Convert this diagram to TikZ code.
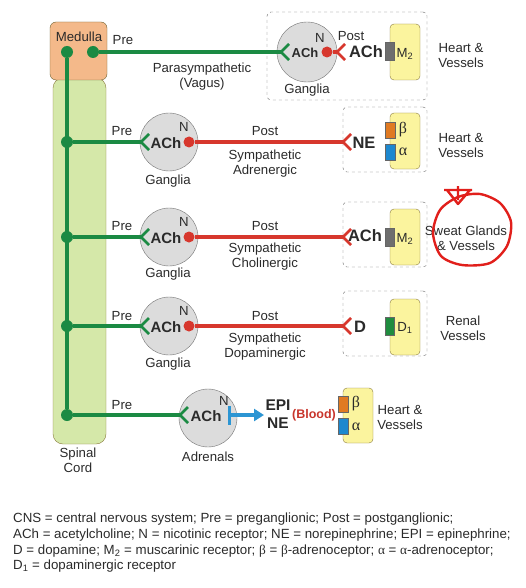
\documentclass[tikz,border=0pt]{standalone}
\usepackage{fontspec}
\setmainfont{Liberation Sans}
\newfontfamily\grk{Liberation Serif}
\usepackage{tikz}
\usetikzlibrary{arrows.meta,positioning}
\definecolor{ink}{HTML}{2A2A2A}
\definecolor{nerve}{HTML}{1B8A43}
\definecolor{postc}{HTML}{D7372D}
\definecolor{epic}{HTML}{2C95D3}
\definecolor{gangfill}{HTML}{DCDCDC}
\definecolor{cordfill}{HTML}{D5E8A9}
\definecolor{medfill}{HTML}{F4B98A}
\definecolor{organ}{HTML}{FBF49E}
\definecolor{organline}{HTML}{8A7B3E}
\definecolor{mtwo}{HTML}{6E6E6E}
\definecolor{betac}{HTML}{E07A22}
\definecolor{alphac}{HTML}{1D88CF}
\definecolor{donec}{HTML}{1F8C3F}
\definecolor{bloodc}{HTML}{C8352C}
\definecolor{scrib}{HTML}{E11F1B}
\tikzset{pics/fork/.style={code={\draw[line width=2.8pt] (8,-8) -- (0,0) -- (8,8);}}}

\begin{document}
\begin{tikzpicture}[x=1pt,y=-1pt,
  every node/.style={font=\fontsize{13.2}{15}\selectfont,text=ink,inner sep=0pt},
  lbl/.style={align=center},
  dot/.style={circle,fill=nerve,minimum size=12pt},
  rdot/.style={circle,fill=postc,minimum size=11pt},
  gang/.style={circle,draw=black!55,fill=gangfill,minimum size=58pt},
  organbox/.style={draw=organline,fill=organ,rounded corners=4pt,minimum width=30pt,minimum height=56pt},
  target/.style={draw=black!60,dashed,rounded corners=4pt},
  rcpt/.style={draw=black!60,minimum width=9.5pt,minimum height=18pt},
  nerveline/.style={nerve,line width=3.2pt},
  postline/.style={postc,line width=3.2pt},
  achsm/.style={font=\fontsize{15}{17}\selectfont\bfseries},
  achbig/.style={font=\fontsize{16.5}{18}\selectfont\bfseries}
]
\useasboundingbox (0,0) rectangle (526,588);

% spinal cord and medulla
\node[draw=organline,fill=cordfill,rounded corners=10pt,minimum width=53pt,minimum height=366pt] (cord) at (79.5,261) {};
\node[draw=organline!80!black,fill=medfill,rounded corners=6pt,minimum width=57pt,minimum height=58pt] (med) at (78.5,51) {};
\node (medtx) at (79,37) {Medulla};
\node[lbl] (cordtx) at (78,460) {Spinal\\Cord};

\node[dot] (md1) at (67,52) {};
\node[dot] (md2) at (93,52) {};
\node[dot] (b1) at (67,142) {};
\node[dot] (b2) at (67,237) {};
\node[dot] (b3) at (67,326) {};
\node[dot] (b4) at (67,415) {};
\draw[nerveline] (md1) -- (b4);

% target boxes
\node[target,minimum width=160pt,minimum height=88pt] (t0) at (347,56) {};
\node[target,minimum width=84pt,minimum height=65pt] (t1) at (385,139.5) {};
\node[target,minimum width=84pt,minimum height=65pt] (t2) at (385,234.5) {};
\node[target,minimum width=84pt,minimum height=65pt] (t3) at (385,323.5) {};

% parasympathetic (vagus)
\node[gang,minimum size=60pt] (g0) at (307,52) {};
\coordinate (f0) at (281,52);
\draw[nerveline] (md2) -- (f0);
\pic[nerve] at (f0) {fork};
\node[font=\fontsize{13}{15}\selectfont\bfseries] (ach0) at (305,53) {ACh};
\node (n0) at (320,38) {N};
\node[rdot] (rd0) at (327,52) {};
\coordinate (rf0) at (337,52);
\draw[postline] (rd0) -- (rf0);
\pic[postc] at (rf0) {fork};
\node (post0) at (351,36) {Post};
\node[achbig] (rx0) at (366,52) {ACh};
\node[organbox] (o0) at (405,52) {};
\node[rcpt,fill=mtwo] (m0) at (389.5,51.5) {};
\node (m0tx) at (405,54) {M\textsubscript{2}};
\node (pre0) at (123,40) {Pre};
\node[lbl] (para) at (202,77) {Parasympathetic\\(Vagus)};
\node (gl0) at (307,90) {Ganglia};
\node[lbl] (org0) at (461,55) {Heart \&\\Vessels};

% sympathetic adrenergic
\node[gang] (g1) at (169,142) {};
\coordinate (f1) at (141,142);
\draw[nerveline] (b1) -- (f1);
\pic[nerve] at (f1) {fork};
\node[achsm] (ach1) at (166,143) {ACh};
\node (n1) at (184,127) {N};
\node[rdot] (rd1) at (189,142) {};
\coordinate (rf1) at (343,142);
\draw[postline] (rd1) -- (rf1);
\pic[postc] at (rf1) {fork};
\node (pre1) at (122,131) {Pre};
\node (post1) at (265,131) {Post};
\node[lbl] (sy1) at (265,164) {Sympathetic\\Adrenergic};
\node (gl1) at (168,181) {Ganglia};
\node[achbig] (rx1) at (364,143) {NE};
\node[organbox] (o1) at (405,141) {};
\node[rcpt,fill=betac,minimum width=10pt,minimum height=16pt] (be1) at (390,130) {};
\node[rcpt,fill=alphac,minimum width=10pt,minimum height=16pt] (al1) at (390,152) {};
\node[font=\fontsize{16}{18}\grk] (be1tx) at (403,130) {β};
\node[font=\fontsize{16}{18}\grk] (al1tx) at (403,152) {α};
\node[lbl] (org1) at (461,145) {Heart \&\\Vessels};

% sympathetic cholinergic
\node[gang] (g2) at (169,237) {};
\coordinate (f2) at (141,237);
\draw[nerveline] (b2) -- (f2);
\pic[nerve] at (f2) {fork};
\node[achsm] (ach2) at (166,238) {ACh};
\node (n2) at (184,222) {N};
\node[rdot] (rd2) at (189,237) {};
\coordinate (rf2) at (343,237);
\draw[postline] (rd2) -- (rf2);
\pic[postc] at (rf2) {fork};
\node (pre2) at (122,226) {Pre};
\node (post2) at (265,226) {Post};
\node[lbl] (sy2) at (265,257) {Sympathetic\\Cholinergic};
\node (gl2) at (168,274) {Ganglia};
\node[achbig] (rx2) at (365,236) {ACh};
\node[organbox] (o2) at (405,237) {};
\node[rcpt,fill=mtwo] (m2) at (389.5,237) {};
\node (m2tx) at (405,239) {M\textsubscript{2}};
\node[lbl] (org2) at (466,238) {Sweat Glands\\\& Vessels};

% sympathetic dopaminergic
\node[gang] (g3) at (169,326) {};
\coordinate (f3) at (141,326);
\draw[nerveline] (b3) -- (f3);
\pic[nerve] at (f3) {fork};
\node[achsm] (ach3) at (166,327) {ACh};
\node (n3) at (184,311) {N};
\node[rdot] (rd3) at (189,326) {};
\coordinate (rf3) at (343,326);
\draw[postline] (rd3) -- (rf3);
\pic[postc] at (rf3) {fork};
\node (pre3) at (122,316) {Pre};
\node (post3) at (265,316) {Post};
\node[lbl] (sy3) at (265,347) {Sympathetic\\Dopaminergic};
\node (gl3) at (168,364) {Ganglia};
\node[achbig] (rx3) at (360,327) {D};
\node[organbox] (o3) at (405,327) {};
\node[rcpt,fill=donec] (d3) at (389.5,326) {};
\node (d3tx) at (405,328) {D\textsubscript{1}};
\node[lbl] (org3) at (463,328) {Renal\\Vessels};

% adrenals
\node[gang] (ad) at (208,418) {};
\coordinate (f4) at (180,415);
\draw[nerveline] (b4) -- (f4);
\pic[nerve] at (f4) {fork};
\node[achsm] (ach4) at (206,416) {ACh};
\node (n4) at (224,401) {N};
\coordinate (bar) at (229,415);
\coordinate (rel) at (264,415);
\draw[epic,line width=3pt] (229,406) -- (229,425);
\draw[epic,line width=3.2pt,-{Triangle[length=10pt,width=12pt]}] (bar) -- (rel);
\node (pre4) at (122,405) {Pre};
\node (gl4) at (208,457) {Adrenals};
\node[lbl,font=\fontsize{15.5}{17.5}\selectfont\bfseries] (epi) at (278,414) {EPI\\NE};
\node[font=\fontsize{12.5}{14}\selectfont\bfseries,text=bloodc] (blood) at (314,415) {(Blood)};
\node[organbox,minimum height=55pt] (o4) at (358,415.5) {};
\node[rcpt,fill=betac,minimum width=10pt,minimum height=16pt] (be4) at (343,404) {};
\node[rcpt,fill=alphac,minimum width=10pt,minimum height=16pt] (al4) at (343,426) {};
\node[font=\fontsize{16}{18}\grk] (be4tx) at (356,404) {β};
\node[font=\fontsize{16}{18}\grk] (al4tx) at (356,427) {α};
\node[lbl] (org4) at (400,417) {Heart \&\\Vessels};

% hand-drawn mark
\draw[scrib,line width=2.4pt,line join=round] plot[smooth cycle] coordinates {(458,197) (440,210) (433,233) (441,256) (462,265) (490,263) (507,246) (511,222) (500,203) (480,194)};
\draw[scrib,line width=2.4pt,line join=round] (444,190) -- (472,190) (447,190) -- (458,204) -- (470,190) (458,186) -- (458,200);

% legend
\node[anchor=north west,align=left,font=\fontsize{13.3}{15.6}\selectfont] (legend) at (13,513)
  {CNS = central nervous system; Pre = preganglionic; Post = postganglionic;\\
   ACh = acetylcholine; N = nicotinic receptor; NE = norepinephrine; EPI = epinephrine;\\
   D = dopamine; M\textsubscript{2} = muscarinic receptor; {\grk β} = {\grk β}-adrenoceptor; {\grk α} = {\grk α}-adrenoceptor;\\
   D\textsubscript{1} = dopaminergic receptor};
\end{tikzpicture}
\end{document}
